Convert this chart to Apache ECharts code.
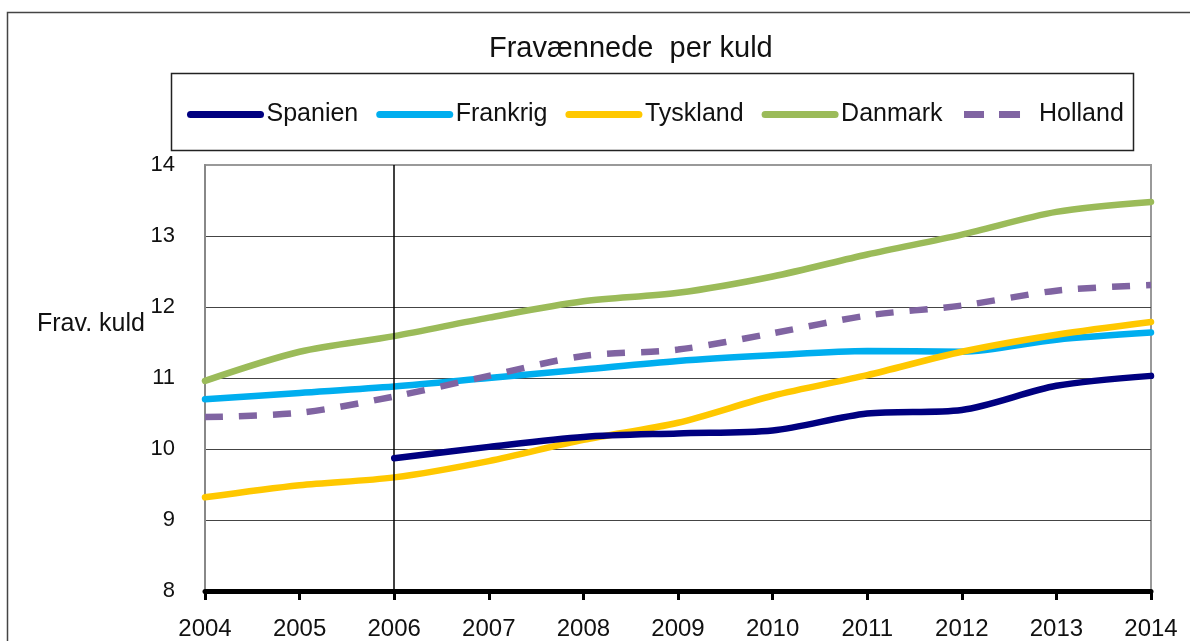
<!DOCTYPE html>
<html>
<head>
<meta charset="utf-8">
<title>Fravænnede per kuld</title>
<script src="https://cdn.jsdelivr.net/npm/echarts@6/dist/echarts.min.js"></script>
<style>
    html, body { margin: 0; padding: 0; background: #fff; }
    #chart0 { width: 1190px; height: 641px; }
</style>
</head>
<body>
<div id="chart0"></div>
<script>
// years on the x axis
var years = ['2004', '2005', '2006', '2007', '2008', '2009', '2010', '2011', '2012', '2013', '2014'];

// weaned piglets per litter
var spanien  = [null, null, 9.87, 10.03, 10.17, 10.22, 10.26, 10.50, 10.55, 10.89, 11.03];
var frankrig = [10.70, 10.79, 10.88, 11.00, 11.12, 11.24, 11.32, 11.38, 11.37, 11.54, 11.64];
var tyskland = [9.32, 9.49, 9.60, 9.83, 10.13, 10.37, 10.75, 11.04, 11.37, 11.61, 11.79];
var danmark  = [10.96, 11.37, 11.59, 11.85, 12.08, 12.20, 12.43, 12.74, 13.02, 13.34, 13.48];
var holland  = [10.45, 10.51, 10.74, 11.03, 11.31, 11.40, 11.63, 11.88, 12.02, 12.23, 12.31];

var seriesNames = ['Spanien', 'Frankrig', 'Tyskland', 'Danmark', 'Holland'];
var yMin = 8, yMax = 14, yStep = 1;

var chartDom = document.getElementById('chart0');
var myChart = echarts.init(chartDom);
var option;

function lineSeries(name, data, color, dashed) {
    return {
        name: name,
        type: 'line',
        data: data,
        smooth: 0.3,
        symbol: 'none',
        connectNulls: false,
        lineStyle: {
            color: color,
            width: 6.5,
            type: dashed ? [18, 16] : 'solid',
            cap: dashed ? 'butt' : 'round'
        },
        itemStyle: { color: color }
    };
}

var sSpanien = lineSeries(seriesNames[0], spanien, '#000080', false);
sSpanien.z = 6;
sSpanien.markLine = {
    silent: true,
    symbol: 'none',
    label: { show: false },
    lineStyle: { color: '#000', width: 1.5, type: 'solid' },
    data: [{ xAxis: '2006' }]
};

// legend entries; Holland gets the two-dash key
var legendData = seriesNames.map(function (n) {
    if (n === 'Holland') {
        return {
            name: n,
            lineStyle: { type: [20, 15, 21, 200], cap: 'butt' },
            textStyle: { padding: [0, 0, 0, 0] }
        };
    }
    return { name: n };
});

option = {
    animation: false,
    backgroundColor: '#fff',
    textStyle: {
        fontFamily: 'Liberation Sans, Arial, sans-serif',
        color: '#111'
    },
    title: {
        text: 'Fravænnede  per kuld',
        left: 484,
        top: 29,
        textStyle: {
            fontSize: 29,
            fontWeight: 'normal',
            color: '#111',
            fontFamily: 'Liberation Sans, Arial, sans-serif'
        }
    },
    graphic: [
        {
            type: 'rect',
            shape: { x: 7.5, y: 12.5, width: 1200, height: 700 },
            style: { fill: 'none', stroke: '#444', lineWidth: 1.5 },
            silent: true
        },
        {
            type: 'rect',
            shape: { x: 171.5, y: 73.5, width: 962, height: 77 },
            style: { fill: 'none', stroke: '#222', lineWidth: 1.5 },
            silent: true
        },
        {
            type: 'text',
            left: 37,
            top: 312,
            style: {
                text: 'Frav. kuld',
                fontSize: 25,
                fill: '#111',
                fontFamily: 'Liberation Sans, Arial, sans-serif'
            }
        }
    ],
    legend: {
        data: legendData,
        left: 182,
        top: 97,
        itemWidth: 70,
        itemHeight: 8,
        itemGap: 18,
        itemStyle: { opacity: 0 },
        lineStyle: { width: 7, cap: 'round' },
        textStyle: {
            fontSize: 25,
            color: '#111',
            padding: [0, 0, 0, 1]
        }
    },
    grid: {
        left: 205,
        right: 39,
        top: 165,
        bottom: 50,
        show: true,
        borderColor: '#999',
        borderWidth: 2,
        containLabel: false
    },
    xAxis: {
        type: 'category',
        boundaryGap: false,
        data: years,
        axisLine: { lineStyle: { color: '#000', width: 5 } },
        axisTick: { show: true, length: 9, lineStyle: { color: '#000', width: 3 } },
        axisLabel: { interval: 0, fontSize: 24, color: '#111', margin: 26 },
        splitLine: { show: false }
    },
    yAxis: {
        type: 'value',
        min: yMin,
        max: yMax,
        interval: yStep,
        axisLine: { show: true, lineStyle: { color: '#888', width: 2 } },
        axisTick: { show: false },
        axisLabel: { fontSize: 22, color: '#111', margin: 30 },
        splitLine: {
            show: true,
            showMaxLine: false,
            lineStyle: { color: '#444', width: 1.2 }
        }
    },
    series: [
        sSpanien,
        lineSeries(seriesNames[1], frankrig, '#00AEEF', false),
        lineSeries(seriesNames[2], tyskland, '#FFC800', false),
        lineSeries(seriesNames[3], danmark, '#9BBB59', false),
        lineSeries(seriesNames[4], holland, '#8064A2', true)
    ]
};

option && myChart.setOption(option);
</script>
</body>
</html>
